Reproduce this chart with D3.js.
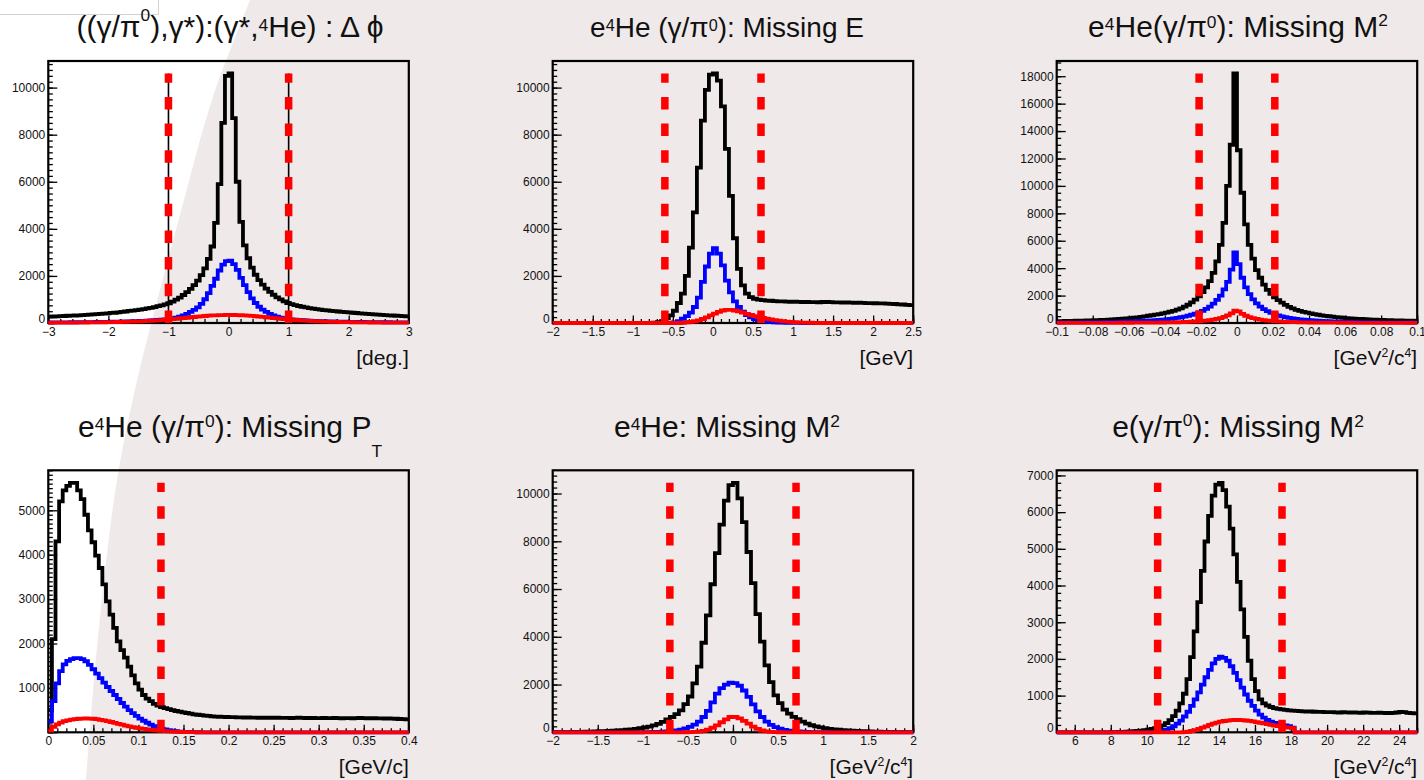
<!DOCTYPE html>
<html>
<head>
<meta charset="utf-8">
<script src="https://cdn.jsdelivr.net/npm/d3@7"></script>
<style>
  html, body { margin: 0; padding: 0; background: #fff; }
  svg { display: block; }
  text { font-family: "Liberation Sans", Arial, Helvetica, sans-serif; fill: #111; }
</style>
</head>
<body>
<svg id="chart" width="1424" height="780"></svg>
<script>
// ---- data: bin contents (black = all, blue, red) ----

// ((γ/π0),γ*):(γ*,4He) : Δφ   [-3, 3], 100 bins
const phiRange = [-3, 3];
const phiCuts = [-1, 1];
const phiBlack = [270,276,280,290,297,308,311,319,328,333,
  346,356,366,381,388,400,413,426,436,455,
  471,488,512,525,546,568,588,618,646,677,
  715,748,790,840,910,990,1080,1190,1310,1450,
  1610,1800,2030,2320,2720,3250,4250,5900,8500,10500,
  10600,8700,6000,4300,3300,2750,2350,2050,1820,1630,
  1460,1320,1200,1090,1000,920,850,800,760,722,
  690,660,634,610,588,568,550,533,517,502,
  488,474,461,448,436,424,412,400,389,378,
  367,357,347,337,327,318,309,300,292,285];
const phiBlue = [25,26,27,28,29,30,31,32,34,35,
  37,39,41,43,45,47,50,53,56,59,
  63,67,71,76,81,87,93,100,108,117,
  127,138,150,170,195,230,270,325,390,470,
  560,660,810,1010,1270,1580,1880,2230,2480,2630,
  2650,2500,2260,1920,1610,1310,1050,850,690,570,
  470,390,325,272,232,197,172,151,139,128,
  118,109,101,94,88,82,77,72,68,64,
  60,57,54,51,48,46,44,42,40,38,
  36,35,33,32,31,30,29,28,27,26];
const phiRed = [11,12,12,13,14,15,16,17,18,20,
  21,23,25,27,29,31,34,37,40,43,
  47,51,56,61,67,73,80,88,96,105,
  115,126,138,150,164,178,193,208,224,240,
  255,270,285,298,310,320,328,334,338,342,
  345,340,336,330,322,312,300,287,272,257,
  242,226,210,195,180,166,152,140,128,117,
  107,98,89,81,74,68,62,57,52,48,
  44,41,38,35,32,30,28,26,24,22,
  21,19,18,17,16,15,14,13,12,12];

// e4He (γ/π0): Missing E   [-2, 2.5], 90 bins
const meRange = [-2, 2.5];
const meCuts = [-0.6, 0.6];
const meBlack = [0,0,0,0,0,0,0,0,0,0,
  0,0,0,0,0,0,0,0,0,0,
  0,0,0,0,0,10,35,80,200,320,
  520,850,1250,2000,3200,4700,6600,8600,9900,10550,
  10600,10300,9200,7400,5400,3600,2300,1600,1250,1100,
  1030,990,970,950,945,930,915,918,905,900,
  908,895,890,898,885,888,880,893,900,884,
  878,874,866,870,862,858,866,852,848,845,
  840,836,832,822,814,808,795,786,772,758];
const meBlue = [0,0,0,0,0,0,0,0,0,0,
  0,0,0,0,0,0,0,0,0,0,
  0,0,0,0,0,0,0,0,0,0,
  30,80,180,290,440,680,1080,1750,2400,2950,
  3180,2950,2450,1800,1300,920,680,480,340,240,
  170,120,85,60,42,30,20,14,10,6,
  4,2,0,0,0,0,0,0,0,0,
  0,0,0,0,0,0,0,0,0,0,
  0,0,0,0,0,0,0,0,0,0];
const meRed = [0,0,0,0,0,0,0,0,0,0,
  0,0,0,0,0,0,0,0,0,0,
  0,0,0,0,0,0,0,0,0,0,
  0,0,10,25,45,75,115,170,240,320,
  400,470,530,560,555,530,490,440,390,340,
  295,255,215,180,150,125,100,80,62,48,
  36,27,20,14,10,6,0,0,0,0,
  0,0,0,0,0,0,0,0,0,0,
  0,0,0,0,0,0,0,0,0,0];

// e4He(γ/π0): Missing M2   [-0.1, 0.1], 100 bins
const mmRange = [-0.1, 0.1];
const mmCuts = [-0.021, 0.021];
const mmBlack = [139,143,147,152,157,163,169,176,183,191,
  200,210,221,233,246,260,276,293,312,333,
  356,382,410,440,490,530,565,605,650,700,
  760,820,890,970,1070,1190,1330,1500,1700,1950,
  2250,2600,3050,3650,4500,5700,7300,10000,13000,18200,
  12600,9500,7200,5700,4700,3850,3300,2800,2420,2120,
  1880,1670,1480,1320,1180,1060,960,880,810,750,
  695,645,600,560,525,492,462,434,408,384,
  362,342,324,307,292,278,265,253,242,232,
  222,213,205,197,190,183,177,171,166,161];
const mmBlue = [40,42,44,46,48,50,52,55,58,61,
  64,67,71,75,79,84,89,95,101,108,
  116,125,135,146,158,171,186,203,222,244,
  270,300,335,375,420,470,530,600,680,775,
  890,1030,1200,1420,1680,2000,2450,3000,3900,5150,
  4300,3300,2600,2100,1720,1430,1200,1010,860,740,
  640,560,490,430,380,338,302,270,243,220,
  200,182,166,152,140,129,119,110,102,95,
  89,83,78,73,69,65,61,58,55,52,
  50,48,46,44,42,40,39,38,37,36];
const mmRed = [6,7,7,8,8,9,9,10,10,11,
  11,12,12,13,14,15,16,17,18,19,
  20,21,22,24,26,28,30,32,34,37,
  41,45,50,56,63,72,82,95,110,128,
  150,178,210,250,300,360,440,560,700,900,
  850,660,530,430,355,295,248,210,178,152,
  130,112,97,85,75,66,58,52,46,41,
  37,34,31,28,26,24,22,21,20,19,
  18,17,16,15,14,13,12,12,11,11,
  10,10,9,9,8,8,7,7,6,6];

// e4He (γ/π0): Missing PT   [0, 0.4], 100 bins
const ptRange = [0, 0.4];
const ptCuts = [0.125];
const ptBlack = [500,2100,4300,5200,5450,5550,5620,5620,5450,5250,
  4900,4550,4280,3980,3700,3330,2950,2650,2350,2050,
  1850,1680,1480,1280,1100,960,840,760,700,640,
  600,570,545,520,500,480,465,450,435,420,
  405,395,385,375,368,360,355,350,348,345,
  340,342,338,335,333,336,330,332,328,330,
  326,328,325,330,327,324,326,322,325,328,
  323,320,324,322,318,321,325,320,317,322,
  319,316,320,318,315,319,322,317,314,318,
  316,312,315,310,313,308,305,300,296,292];
const ptBlue = [250,700,1100,1380,1530,1610,1650,1670,1670,1650,
  1600,1520,1420,1320,1220,1120,1020,930,840,750,
  660,580,500,430,370,310,260,215,175,140,
  110,85,65,48,35,25,17,11,7,4,
  2,1,0,0,0,0,0,0,0,0,
  0,0,0,0,0,0,0,0,0,0,
  0,0,0,0,0,0,0,0,0,0,
  0,0,0,0,0,0,0,0,0,0,
  0,0,0,0,0,0,0,0,0,0,
  0,0,0,0,0,0,0,0,0,0];
const ptRed = [40,120,180,220,250,270,285,295,305,310,
  312,310,305,295,282,268,250,232,212,192,
  172,152,135,118,102,88,76,65,55,46,
  38,31,25,20,16,12,9,7,5,3,
  2,1,0,0,0,0,0,0,0,0,
  0,0,0,0,0,0,0,0,0,0,
  0,0,0,0,0,0,0,0,0,0,
  0,0,0,0,0,0,0,0,0,0,
  0,0,0,0,0,0,0,0,0,0,
  0,0,0,0,0,0,0,0,0,0];

// e4He: Missing M2   [-2, 2], 80 bins
const heRange = [-2, 2];
const heCuts = [-0.7, 0.7];
const heBlack = [5,6,8,10,13,16,20,25,30,36,
  43,51,60,70,82,94,108,125,145,170,
  200,240,290,350,440,540,640,760,920,1180,
  1500,2050,2750,3750,4900,6200,7500,8700,9700,10350,
  10450,9800,8800,7550,6250,4950,3800,2800,2100,1550,
  1220,950,780,650,550,450,360,295,245,205,
  172,146,126,109,95,82,70,60,51,43,
  36,30,25,20,16,13,10,8,6,5];
const heBlue = [0,0,0,0,0,0,0,0,0,0,
  0,0,0,0,0,0,0,1,2,3,
  5,8,12,18,26,38,55,80,115,165,
  230,320,450,640,900,1250,1620,1850,2000,2080,
  2060,1950,1750,1480,1170,880,640,450,310,215,
  150,105,72,50,34,23,16,11,7,5,
  3,2,1,0,0,0,0,0,0,0,
  0,0,0,0,0,0,0,0,0,0];
const heRed = [0,0,0,0,0,0,0,0,0,0,
  0,0,0,0,0,0,0,0,0,0,
  0,0,0,0,0,0,0,0,0,2,
  6,14,30,60,110,190,290,420,540,640,
  650,580,480,360,240,140,75,38,18,8,
  3,0,0,0,0,0,0,0,0,0,
  0,0,0,0,0,0,0,0,0,0,
  0,0,0,0,0,0,0,0,0,0];

// e(γ/π0): Missing M2   [5, 25], 100 bins
const egRange = [5, 25];
const egCuts = [10.6, 17.5];
const egBlack = [0,0,0,0,0,0,0,0,0,0,
  0,0,0,0,0,3,5,8,12,16,
  22,30,38,48,60,75,92,115,145,190,
  250,330,440,590,790,1050,1450,2050,2750,3550,
  4400,5200,5900,6450,6750,6800,6600,6150,5550,4850,
  4100,3350,2600,1950,1450,1120,900,790,730,690,
  660,640,625,612,600,590,582,575,570,565,
  568,560,555,558,552,548,550,545,540,548,
  543,538,541,536,532,540,535,530,528,535,
  530,526,520,532,540,555,548,530,520,515];
const egBlue = [0,0,0,0,0,0,0,0,0,0,
  0,0,0,0,0,0,0,0,0,0,
  0,0,0,0,0,2,3,5,15,35,
  65,110,165,235,320,430,560,720,900,1090,
  1300,1500,1700,1880,2000,2060,2030,1950,1800,1620,
  1420,1220,1030,860,720,590,480,400,335,290,
  255,230,205,185,165,130,0,0,0,0,
  0,0,0,0,0,0,0,0,0,0,
  0,0,0,0,0,0,0,0,0,0,
  0,0,0,0,0,0,0,0,0,0];
const egRed = [0,0,0,0,0,0,0,0,0,0,
  0,0,0,0,0,0,0,0,0,0,
  0,0,0,0,0,0,0,0,0,0,
  0,0,0,0,0,5,15,35,60,90,
  125,160,200,235,265,290,308,320,330,335,
  335,330,322,310,295,278,260,242,222,203,
  185,168,152,138,125,110,0,0,0,0,
  0,0,0,0,0,0,0,0,0,0,
  0,0,0,0,0,0,0,0,0,0,
  0,0,0,0,0,0,0,0,0,0];

// ---- panel set-up ----
const panels = [
  { col: 0, row: 0, size: 30,
    title: [["((γ/π"], ["0", "sup", 0.55], ["),γ*):(γ*,"], ["4", "sup", 0.2], ["He) : Δ \u03D5"]],
    unit: [["[deg.]"]],
    range: phiRange, cuts: phiCuts, black: phiBlack, blue: phiBlue, red: phiRed,
    xStep: [1, 0.2], yStep: [2000, 250], guide: true },
  { col: 1, row: 0, size: 28,
    title: [["e"], ["4", "sup", 0.22], ["He (γ/π"], ["0", "sup", 0.22], ["): Missing E"]],
    unit: [["[GeV]"]],
    range: meRange, cuts: meCuts, black: meBlack, blue: meBlue, red: meRed,
    xStep: [0.5, 0.1], yStep: [2000, 250] },
  { col: 2, row: 0, size: 30,
    title: [["e"], ["4", "sup", 0.25], ["He(γ/π"], ["0", "sup", 0.3], ["): Missing M"], ["2", "sup", 0.37]],
    unit: [["[GeV"], ["2", "sup", 0.38], ["/c"], ["4", "sup", 0.38], ["]"]],
    range: mmRange, cuts: mmCuts, black: mmBlack, blue: mmBlue, red: mmRed,
    xStep: [0.02, 0.005], yStep: [2000, 500] },
  { col: 0, row: 1, size: 30,
    title: [["e"], ["4", "sup", 0.22], ["He (γ/π"], ["0", "sup", 0.35], ["): Missing P"], ["T", "sub", 0.66]],
    unit: [["[GeV/c]"]],
    range: ptRange, cuts: ptCuts, black: ptBlack, blue: ptBlue, red: ptRed,
    xStep: [0.05, 0.01], yStep: [1000, 100], noZero: true },
  { col: 1, row: 1, size: 30,
    title: [["e"], ["4", "sup", 0.22], ["He: Missing M"], ["2", "sup", 0.33]],
    unit: [["[GeV"], ["2", "sup", 0.38], ["/c"], ["4", "sup", 0.38], ["]"]],
    range: heRange, cuts: heCuts, black: heBlack, blue: heBlue, red: heRed,
    xStep: [0.5, 0.1], yStep: [2000, 250] },
  { col: 2, row: 1, size: 30,
    title: [["e(γ/π"], ["0", "sup", 0.38], ["): Missing M"], ["2", "sup", 0.33]],
    unit: [["[GeV"], ["2", "sup", 0.38], ["/c"], ["4", "sup", 0.38], ["]"]],
    range: egRange, cuts: egCuts, black: egBlack, blue: egBlue, red: egRed,
    xStep: [2, 0.5], yStep: [1000, 200] }
];

// ---- layout ----
const W = 1424, H = 780;
const colX = [48.3, 552.7, 1056.7], rowY = [61, 470.3];
const frameW = 360.5, frameH = 262;
const titleX = [230, 727, 1238], titleY = [37, 437];
const FONT = '"Liberation Sans", Arial, Helvetica, sans-serif';

const svg = d3.select("#chart");

// slide background: white wedge on the left, pale grey elsewhere
svg.append("rect").attr("width", W).attr("height", H).attr("fill", "#fff");
const edge = [[250, 0], [212, 100], [184, 200], [160, 290], [136, 385], [117, 480], [104, 580], [94, 680], [86, 780]];
svg.append("path")
  .attr("d", d3.line().curve(d3.curveCatmullRom)(edge) + `L${W},${H}L${W},0Z`)
  .attr("fill", "#efe9e9");
svg.append("path").attr("d", "M0,14.5H158.5V0").attr("fill", "none").attr("stroke", "#d2d2d2");

function steps(lo, hi, step) {
  const out = [];
  const a = Math.ceil(lo / step - 1e-7), b = Math.floor(hi / step + 1e-7);
  for (let k = a; k <= b; k++) out.push(+(k * step).toFixed(10));
  return out;
}

function fmt(v) {
  return String(+v.toFixed(6)).replace("-", "\u2212");
}

// text with ROOT-like super/subscripts
function richText(parent, parts, size) {
  const t = parent.append("text").attr("font-size", size);
  let shift = 0;
  parts.forEach(([str, kind, lift]) => {
    const target = kind === "sup" ? -lift * size : kind === "sub" ? lift * size : 0;
    const span = t.append("tspan").text(str).attr("dy", target - shift);
    if (kind) span.attr("font-size", size * 0.58);
    shift = target;
  });
  return t;
}

function styleAxis(g) {
  g.select(".domain").remove();
  g.attr("font-family", FONT).attr("font-size", 12);
  g.selectAll("line").attr("stroke", "#000").attr("stroke-width", 1.3);
  g.selectAll("text").attr("fill", "#111");
}

panels.forEach(p => {
  const x0 = colX[p.col], y0 = rowY[p.row];
  const g = svg.append("g").attr("transform", `translate(${x0},${y0})`);

  const peak = d3.max(p.black);
  const x = d3.scaleLinear().domain(p.range).range([0, frameW]);
  const y = d3.scaleLinear().domain([0, peak * 1.05]).range([frameH, 0]);

  g.append("rect")
    .attr("width", frameW).attr("height", frameH)
    .attr("fill", "none").attr("stroke", "#000").attr("stroke-width", 2.2);

  // x axis: ticks point into the frame
  const xMaj = steps(p.range[0], p.range[1], p.xStep[0]);
  const xMin = steps(p.range[0], p.range[1], p.xStep[1]);
  g.append("g").attr("transform", `translate(0,${frameH})`)
    .call(d3.axisBottom(x).tickValues(xMin).tickSizeInner(-4).tickSizeOuter(0).tickFormat(""))
    .call(styleAxis);
  g.append("g").attr("transform", `translate(0,${frameH})`)
    .call(d3.axisBottom(x).tickValues(xMaj).tickSizeInner(-7.5).tickSizeOuter(0).tickPadding(4).tickFormat(fmt))
    .call(styleAxis);

  // y axis
  const yMaj = steps(0, y.domain()[1], p.yStep[0]);
  const yMin = steps(0, y.domain()[1], p.yStep[1]);
  g.append("g")
    .call(d3.axisLeft(y).tickValues(yMin).tickSizeInner(-4.5).tickSizeOuter(0).tickFormat(""))
    .call(styleAxis);
  const yAxis = g.append("g")
    .call(d3.axisLeft(y).tickValues(yMaj).tickSizeInner(-9).tickSizeOuter(0).tickPadding(3)
      .tickFormat(d => (p.noZero && d === 0) ? "" : d3.format("d")(d)))
    .call(styleAxis);
  // lift the "0" label a little off the x labels, as ROOT does
  yAxis.selectAll(".tick").filter(d => d === 0).select("text").attr("dy", "-0.05em");

  // histograms
  const line = d3.line().x(d => x(d[0])).y(d => y(d[1])).curve(d3.curveStepAfter);
  const pts = vals => {
    const w = (p.range[1] - p.range[0]) / vals.length;
    const out = vals.map((v, i) => [p.range[0] + i * w, v]);
    out.push([p.range[1], vals[vals.length - 1]]);
    return out;
  };
  [[p.black, "#000"], [p.blue, "#0000ff"], [p.red, "#ff0000"]].forEach(([vals, c]) => {
    g.append("path").attr("d", line(pts(vals)))
      .attr("fill", "none").attr("stroke", c).attr("stroke-width", 3.8)
      .attr("stroke-linejoin", "miter");
  });

  // cut lines
  p.cuts.forEach(c => {
    if (p.guide) {
      g.append("line").attr("x1", x(c)).attr("x2", x(c)).attr("y1", y(0)).attr("y2", y(peak))
        .attr("stroke", "#000").attr("stroke-width", 1.6);
    }
    g.append("line").attr("x1", x(c)).attr("x2", x(c)).attr("y1", y(0)).attr("y2", y(peak))
      .attr("stroke", "#ff0000").attr("stroke-width", 7.5).attr("stroke-dasharray", "12.5 14.2");
  });

  // titles
  richText(svg, p.title, p.size)
    .attr("x", titleX[p.col]).attr("y", titleY[p.row]).attr("text-anchor", "middle");
  richText(svg, p.unit, 21)
    .attr("x", x0 + frameW).attr("y", y0 + frameH + 42).attr("text-anchor", "end");
});
</script>
</body>
</html>
